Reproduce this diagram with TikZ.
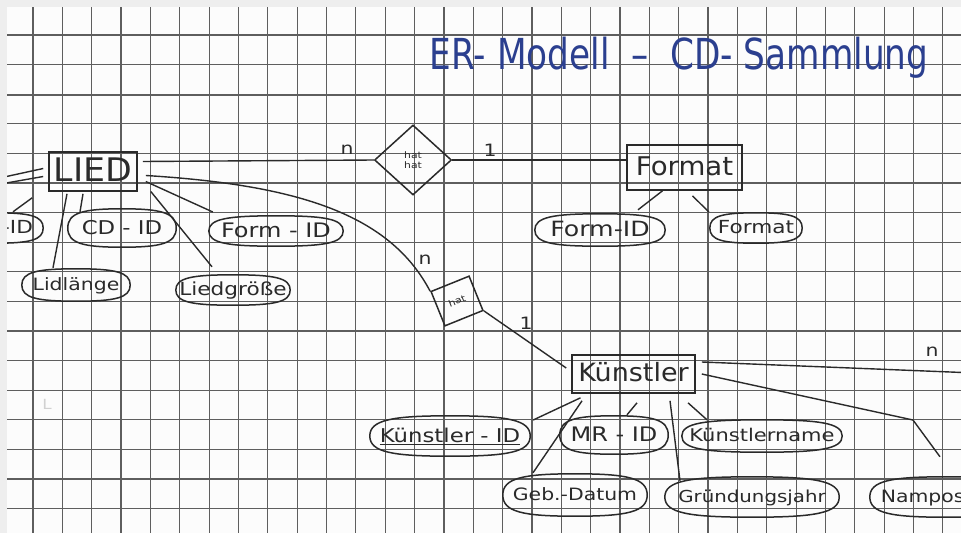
\documentclass[tikz,border=0pt]{standalone}
\usepackage{fontspec}
\setmainfont{DejaVu Sans}
\newfontfamily\hand[FakeStretch=1.2]{DejaVu Sans}
\usetikzlibrary{shapes.geometric,calc}
\definecolor{paperc}{HTML}{FCFCFC}
\definecolor{marginc}{HTML}{EEEEEE}
\definecolor{gridc}{HTML}{5E5E5E}
\definecolor{inkc}{HTML}{2A2A2A}
\definecolor{titleblue}{HTML}{2B3F8F}
\newcommand{\fittxt}[1]{\makebox[0pt]{\raisebox{-0.33em}[0pt][0pt]{#1}}}
\newcommand{\tallbox}[1]{\scalebox{1}[1.12]{#1}}
\begin{document}
\begin{tikzpicture}[x=1pt,y=-1pt,
  gridline/.style={draw=gridc, line width=1.2pt},
  entity/.style={draw=inkc, line width=1.6pt, rectangle, inner sep=0pt, text=inkc},
  attr/.style={rectangle, inner sep=0pt, text=inkc},
  attrline/.style={draw=inkc, line width=1.5pt},
  relship/.style={draw=inkc, line width=1.5pt, inner sep=0pt, text=inkc, align=center, font=\hand\fontsize{9}{10}\selectfont},
  conn/.style={draw=inkc, line width=1.4pt},
  card/.style={text=inkc, inner sep=0pt, font=\hand\fontsize{17}{17}\selectfont},
  hf/.style={font=\hand\fontsize{#1}{#1}\selectfont}
]
\useasboundingbox (0,0) rectangle (961,533);
\fill[marginc] (0,0) rectangle (961,533);
\fill[paperc] (7,7) rectangle (961,533);
\begin{scope}
\clip (7,7) rectangle (961,533);
% grid paper
\foreach \k in {0,...,31} \draw[gridline] ({33+29.35*\k},7) -- ({33+29.35*\k},533);
\foreach \k in {0,...,16} \draw[gridline] (7,{35+29.6*\k}) -- (961,{35+29.6*\k});
\draw[gridline, line width=2.2pt] (7,95) -- (961,95);

% title
\node[text=titleblue, font=\fontsize{35}{35}\selectfont, inner sep=0pt] (title) at (679,58) {\scalebox{0.98}[1.22]{ER- Modell \ -- \ CD- Sammlung}};

% entities
\node[entity, minimum width=88pt, minimum height=39pt, hf=29] (lied) at (93,171.5) {\fittxt{\tallbox{LIED}}};
\node[entity, minimum width=115pt, minimum height=45pt, hf=23] (format) at (684.5,167.5) {\fittxt{\tallbox{Format}}};
\node[entity, minimum width=123pt, minimum height=38pt, hf=22.5] (kuenstler) at (633.5,374) {\fittxt{\tallbox{Künstler}}};

% relationships
\node[relship, diamond, minimum width=77pt, minimum height=70pt] (hat) at (413,160) {hat\\hat};
\node[relship, rectangle, minimum width=41pt, minimum height=37pt, rotate=22] (rel) at (457,301) {hat};

% attributes of LIED
\node[attr, minimum width=96pt, minimum height=30pt, hf=18] (liedid) at (-5,228) {\fittxt{Lied-ID}};
\node[attr, minimum width=108pt, minimum height=38pt, hf=19] (cdid) at (122,228) {\fittxt{CD - ID}};
\node[attr, minimum width=108pt, minimum height=32pt, hf=17] (lidl) at (76,285) {\fittxt{Lidlänge}};
\node[attr, minimum width=134pt, minimum height=30pt, hf=20] (formid) at (276,231) {\fittxt{Form - ID}};
\node[attr, minimum width=114pt, minimum height=30pt, hf=18] (liedg) at (233,290) {\fittxt{Liedgröße}};

% attributes of Format
\node[attr, minimum width=130pt, minimum height=32pt, hf=21] (fformid) at (600,230) {\fittxt{Form-ID}};
\node[attr, minimum width=92pt, minimum height=30pt, hf=18] (fformat) at (756,228) {\fittxt{Format}};

% attributes of Künstler
\node[attr, minimum width=160pt, minimum height=40pt, hf=19] (kid) at (450,436) {\fittxt{\underline{Künstler - ID}}};
\node[attr, minimum width=108pt, minimum height=38pt, hf=20] (mrid) at (614,435) {\fittxt{MR - ID}};
\node[attr, minimum width=160pt, minimum height=32pt, hf=17.5] (kname) at (762,436) {\fittxt{Künstlername}};
\node[attr, minimum width=144pt, minimum height=42pt, hf=17] (gebd) at (575,495) {\fittxt{Geb.-Datum}};
\node[attr, minimum width=174pt, minimum height=40pt, hf=16.5] (gruend) at (752,497) {\fittxt{Gründungsjahr}};
\node[attr, minimum width=150pt, minimum height=40pt, hf=17] (namp) at (945,497) {\fittxt{Namposition}};

% attribute outlines (flattened ellipses, as drawn by hand)
\foreach \n in {liedid,cdid,lidl,formid,liedg,fformid,fformat,kid,mrid,kname,gebd,gruend,namp}{
  \draw[attrline] (\n.west)
    .. controls ($(\n.west)!0.8!(\n.north west)$) and ($(\n.north)!0.72!(\n.north west)$) .. (\n.north)
    .. controls ($(\n.north)!0.72!(\n.north east)$) and ($(\n.east)!0.8!(\n.north east)$) .. (\n.east)
    .. controls ($(\n.east)!0.8!(\n.south east)$) and ($(\n.south)!0.72!(\n.south east)$) .. (\n.south)
    .. controls ($(\n.south)!0.72!(\n.south west)$) and ($(\n.west)!0.8!(\n.south west)$) .. (\n.west) -- cycle;
}

% cardinalities
\node[card] (n1) at (347,150) {n};
\node[card] (c1) at (490,150) {1};
\node[card] (n2) at (425,260) {n};
\node[card] (c2) at (526,323) {1};
\node[card] (n3) at (932,352) {n};
\node[text=black!18, inner sep=0pt, hf=14] (faint) at (47,404) {L};

% relationship connectors
\coordinate (offleft1) at (-5,179);
\coordinate (offleft2) at (-5,185);
\draw[conn] (offleft1) -- ($(lied.west)+(-5,-3)$);
\draw[conn] (offleft2) -- ($(lied.west)+(-5,5)$);
\draw[conn] ($(lied.east)+(5,-10)$) -- (hat.west);
\draw[conn] (hat.east) -- (format.west |- hat.east);
\draw[conn] ($(lied.east)+(8,4)$) .. controls (300,185) and (390,215) .. (rel.north west);
\draw[conn] (rel.south east) -- ($(kuenstler.west)+(-5,-6)$);
\coordinate (offright) at (975,373);
\draw[conn] ($(kuenstler.east)+(6,-12)$) -- (offright);
\coordinate (kbend) at (913,420);
\draw[conn] ($(kuenstler.east)+(6,0)$) -- (kbend) -- ($(namp.north)+(-5,-20)$);

% attribute connectors
\draw[conn] ($(lied.south west)+(-16,6)$) -- ($(liedid.north)+(18,-1)$);
\draw[conn] ($(lied.south)+(-10,2)$) -- ($(cdid.north)+(-42,3)$);
\draw[conn] ($(lied.south)+(-26,2)$) -- ($(lidl.north)+(-23,-1)$);
\draw[conn] ($(lied.east)+(8,10)$) -- ($(formid.west)+(4,-19)$);
\draw[conn] ($(lied.east)+(13,20)$) -- ($(liedg.north)+(-21,-8)$);
\draw[conn] ($(format.south)+(-22,0)$) -- ($(fformid.north)+(38,-4)$);
\draw[conn] ($(format.south)+(8,5)$) -- ($(fformat.west)+(-1,-16)$);
\draw[conn] ($(kuenstler.south)+(-53,4)$) -- ($(kid.east)+(3,-16)$);
\draw[conn] ($(kuenstler.south)+(3.5,9)$) -- ($(mrid.north)+(13,-1)$);
\draw[conn] ($(kuenstler.south)+(54.5,9)$) -- ($(kname.north)+(-55,0)$);
\draw[conn] ($(kuenstler.south)+(-51.5,7)$) -- ($(gebd.north)+(-42,-1)$);
\draw[conn] ($(kuenstler.south)+(36.5,7)$) -- ($(gruend.north)+(-72,4)$);
\end{scope}
\end{tikzpicture}
\end{document}
